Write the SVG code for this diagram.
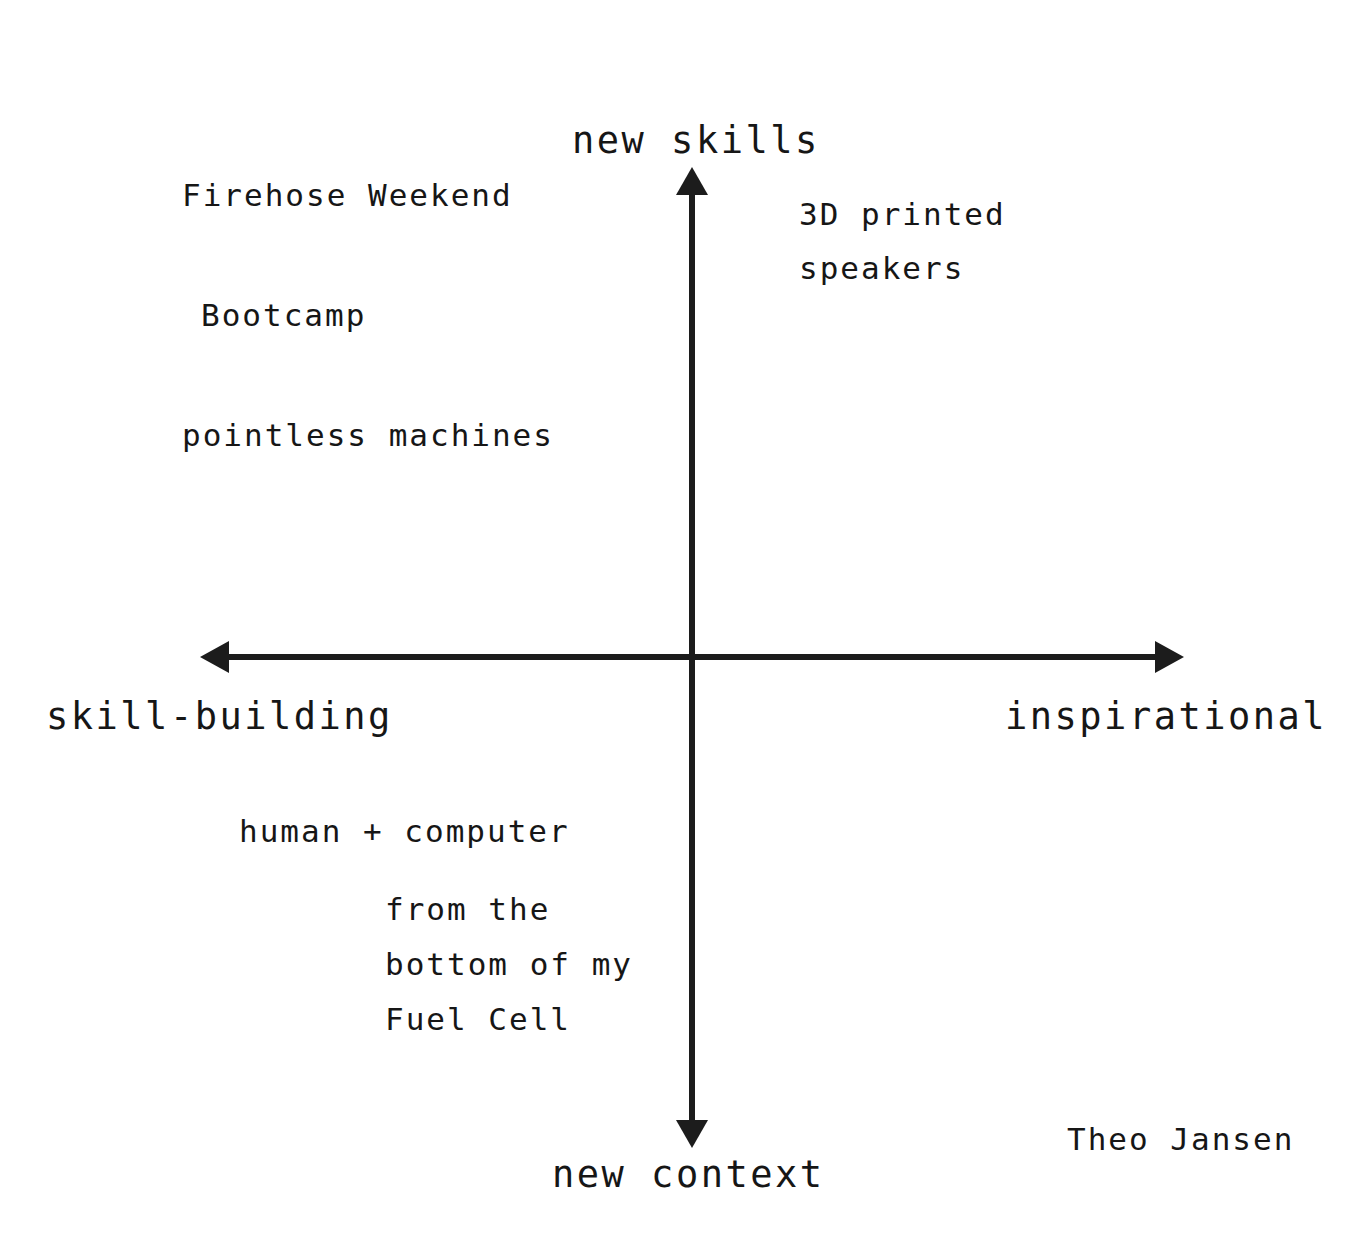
<svg xmlns="http://www.w3.org/2000/svg" width="1372" height="1250" viewBox="0 0 1372 1250">
<style>
.t{font-family:"DejaVu Sans Mono","Liberation Mono",monospace;fill:#161616}
.b{font-size:31px;letter-spacing:2px}
.a{font-size:37px;letter-spacing:2.5px}
.ax{stroke:#1c1c1c;stroke-width:6;fill:none}
.hd{fill:#1c1c1c}
</style>
<rect width="1372" height="1250" fill="#fff"/>
<g id="connectors">
<line class="ax" x1="692" y1="192" x2="692" y2="1124"/>
<polygon class="hd" points="692,167 676,195 708,195"/>
<polygon class="hd" points="692,1148 676,1120 708,1120"/>
<line class="ax" x1="226" y1="657" x2="1158" y2="657"/>
<polygon class="hd" points="200,657 229,641 229,673"/>
<polygon class="hd" points="1184,657 1155,641 1155,673"/>
</g>
<g id="axis-top"><text class="t a" x="572" y="153">new skills</text></g>
<g id="axis-left"><text class="t a" x="46" y="729">skill-building</text></g>
<g id="axis-right"><text class="t a" x="1005" y="729">inspirational</text></g>
<g id="axis-bottom"><text class="t a" x="552" y="1187">new context</text></g>
<g id="firehose"><text class="t b" x="182" y="206">Firehose Weekend</text></g>
<g id="speakers"><text class="t b" x="799" y="225">3D printed</text><text class="t b" x="799" y="279">speakers</text></g>
<g id="bootcamp"><text class="t b" x="201" y="326">Bootcamp</text></g>
<g id="pointless"><text class="t b" x="182" y="446">pointless machines</text></g>
<g id="human"><text class="t b" x="239" y="842">human + computer</text></g>
<g id="fuelcell"><text class="t b" x="385" y="920">from the</text><text class="t b" x="385" y="975">bottom of my</text><text class="t b" x="385" y="1030">Fuel Cell</text></g>
<g id="theo"><text class="t b" x="1067" y="1150">Theo Jansen</text></g>
</svg>
